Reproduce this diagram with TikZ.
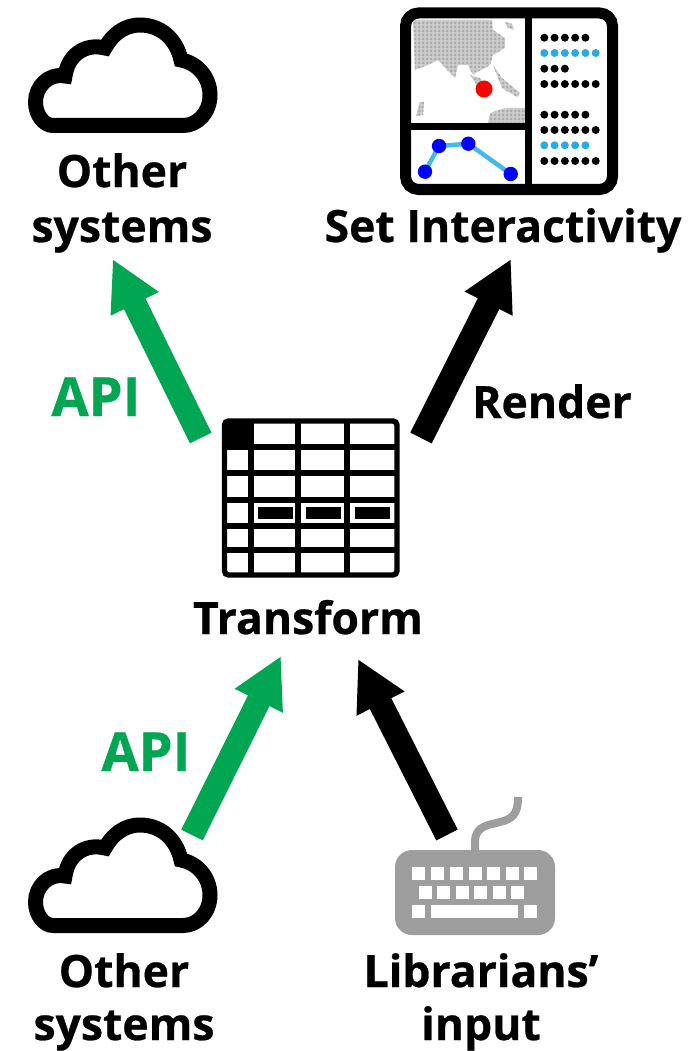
\documentclass[tikz,border=0pt]{standalone}
\usepackage{fontspec}
\setmainfont{Open Sans}[BoldFont={Open Sans Bold},BoldFeatures={FakeBold=0.6}]
\usetikzlibrary{arrows.meta}
\definecolor{apigreen}{RGB}{0,166,81}
\definecolor{dotcyan}{RGB}{41,171,226}
\definecolor{kbgray}{RGB}{158,158,158}
\definecolor{landgray}{RGB}{172,172,172}
\definecolor{landlight}{RGB}{205,205,205}
\definecolor{linkcyan}{RGB}{70,185,235}
\tikzset{
  label/.style={font=\bfseries\fontsize{44.5}{44.5}\selectfont,anchor=base,inner sep=0pt,text=black},
  greenlabel/.style={label,text=apigreen,font=\bfseries\fontsize{54}{54}\selectfont},
  bigarrow/.style={line width=24pt,-{Triangle[length=50pt,width=50pt]}},
  cloudline/.style={line width=15pt,line join=miter,miter limit=2.5,draw=black},
  tableline/.style={line width=5.4pt,draw=black},
  dbline/.style={line width=7pt,draw=black},
  key/.style={fill=white,draw=none},
  iconbox/.style={inner sep=0pt,minimum size=0pt},
  cloudicon/.pic={
    \draw[cloudline] (53,125.5) -- (183,125.5)
      .. controls (198,125.5) and (210,112) .. (210,95)
      .. controls (210,78) and (198,63) .. (181,60)
      .. controls (176,38) and (160,25) .. (140,25)
      .. controls (124,25) and (112,35) .. (105,48)
      .. controls (85,43) and (68,55) .. (65,76)
      .. controls (48,73) and (35.5,87) .. (35.5,102)
      .. controls (35.5,115) and (44,125.5) .. (53,125.5) -- cycle;
  }
}
\newcommand{\dotrow}[3]{% y, count, colour
  \foreach \i in {1,...,#2}{\fill[#3] ({544.3+(\i-1)*10.28},#1) circle (4);}}
\newcommand{\landshapes}{%
  (413,20) -- (492,20) -- (493,30) -- (505,38) -- (505,48) -- (493,55) -- (490,65) -- (485,68) -- (477,72) -- (473,75) -- (468,65) -- (458,65) -- (455,78) -- (447,70) -- (438,60) -- (428,65) -- (415,70) -- cycle
  (488,123) -- (490,113) -- (505,108) -- (525,108) -- (525,123) -- cycle
  (493,65) -- (502,78) -- (520,93) -- (517,97) -- (502,88) -- cycle
  (470,75) -- (480,78) -- (490,92) -- (480,90) -- cycle
  (420,102) -- (424,102) -- (423,115) -- (416,116) -- cycle
  (505,22) -- (512,24) -- (514,30) -- (508,28) -- cycle}
\begin{document}
\begin{tikzpicture}[x=1pt,y=-1pt]
\useasboundingbox (0,0) rectangle (690,1051);
% clouds
\pic at (0,0) {cloudicon};
\pic at (0,800) {cloudicon};
% dashboard: map land
\begin{scope}
  \path[clip] \landshapes;
  \fill[landlight] (411,19) rectangle (525,123);
  \foreach \x in {0,...,28}{\foreach \y in {0,...,26}{
    \fill[landgray] ({411+\x*4},{19+\y*4}) circle (1.5);
  }}
\end{scope}
\fill[red] (484,89) circle (8.5);
% dashboard frame
\draw[dbline,line width=11pt,rounded corners=13pt] (405.5,13) rectangle (612.5,189.5);
\draw[dbline] (528,13) -- (528,189);
\draw[dbline] (406,127) -- (528,127);
\node[iconbox,minimum width=218pt,minimum height=188pt] (dashboard) at (509,101) {};
% dashboard chart
\coordinate (ch1) at (425,171.7);
\coordinate (ch2) at (439,146);
\coordinate (ch3) at (468.3,143.7);
\coordinate (ch4) at (510.7,174);
\draw[linkcyan,line width=4.5pt] (ch1) -- (ch2) -- (ch3) -- (ch4);
\foreach \p in {ch1,ch2,ch3,ch4}{\fill[blue] (\p) circle (7.2);}
% dashboard dots
\dotrow{37.7}{5}{black}
\dotrow{53}{6}{dotcyan}
\dotrow{68.7}{3}{black}
\dotrow{84}{6}{black}
\dotrow{114.7}{5}{black}
\dotrow{130}{6}{black}
\dotrow{145.3}{5}{dotcyan}
\dotrow{161}{6}{black}
% table
\node[iconbox,minimum width=178pt,minimum height=160pt] (table) at (311,498) {};
\fill[black] (224,421) rectangle (251,447);
\draw[tableline,rounded corners=4pt] (224.5,421) rectangle (397,575);
\foreach \x in {251,298,347}{\draw[tableline] (\x,421) -- (\x,575);}
\foreach \y in {447,473,500,526,550}{\draw[tableline] (224.5,\y) -- (397,\y);}
\foreach \x in {258,306,355}{\fill[black] (\x,507) rectangle (\x+35,519);}
% keyboard
\draw[kbgray,line width=8pt] (475,852) -- (475,842) .. controls (475,825) and (490,825) .. (500,822) .. controls (512,819) and (518,815) .. (518,797);
\fill[kbgray,rounded corners=17pt] (395,850) rectangle (555,935);
\node[iconbox,minimum width=160pt,minimum height=85pt] (keyboard) at (475,892) {};
\foreach \x in {411.7,430.5,450,468.5,486.5,505.5,524}{\fill[key] (\x,867) rectangle (\x+13,880);}
\foreach \x in {418.5,437,455.5,474,492.5,511}{\fill[key] (\x,886) rectangle (\x+13,899);}
\fill[key] (411.7,905) rectangle (424.7,918);
\fill[key] (431,905) rectangle (518.3,918);
\fill[key] (524,905) rectangle (537,918);
% labels
\node[label] (other1) at (122,187) {Other};
\node[label] (sys1) at (122,242) {systems};
\node[label] (setint) at (503,242) {Set Interactivity};
\node[label] (transform) at (308,634) {Transform};
\node[label] (render) at (552,418) {Render};
\node[greenlabel] (api1) at (96,416) {API};
\node[greenlabel] (api2) at (146,771) {API};
\node[label] (other2) at (124,987) {Other};
\node[label] (sys2) at (124,1040) {systems};
\node[label] (lib) at (481,987) {Librarians’};
\node[label] (inp) at (481,1040) {input};
% connectors
\coordinate (a1s) at (200.7,438);
\coordinate (a1e) at (112.7,259);
\coordinate (a2s) at (421,438);
\coordinate (a2e) at (511,259);
\coordinate (a3s) at (192,835);
\coordinate (a3e) at (281,656);
\coordinate (a4s) at (447,835);
\coordinate (a4e) at (358,659);
\draw[bigarrow,draw=apigreen,fill=apigreen] (a1s) -- (a1e);
\draw[bigarrow,draw=black,fill=black] (a2s) -- (a2e);
\draw[bigarrow,draw=apigreen,fill=apigreen] (a3s) -- (a3e);
\draw[bigarrow,draw=black,fill=black] (a4s) -- (a4e);
\end{tikzpicture}
\end{document}
